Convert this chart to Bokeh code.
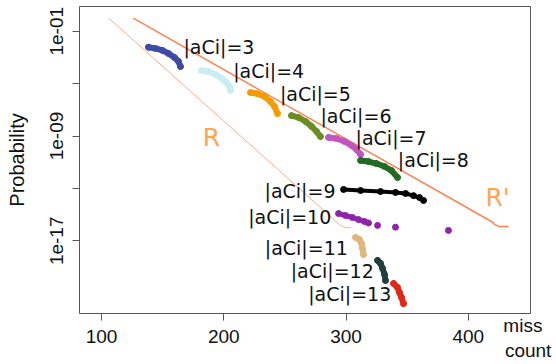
from bokeh.plotting import figure
from bokeh.models import Range1d, FixedTicker, CustomJSTickFormatter, LinearAxis
from bokeh.core.properties import value
from bokeh.embed import file_html
from bokeh.resources import INLINE

# ---- data ----
c3_x = [138.4, 144.2, 149.9, 154.8, 159.7, 163.0, 164.6]
c3_p = [6.0e-3, 4.8e-3, 3.4e-3, 2.0e-3, 9.8e-4, 4.9e-4, 2.0e-4]
c4_x = [181.8, 187.5, 193.3, 198.2, 202.2, 204.7, 205.5]
c4_p = [1.0e-4, 8.3e-5, 4.9e-5, 2.5e-5, 1.2e-5, 6.0e-6, 3.0e-6]
c5_x = [221.9, 227.6, 233.3, 238.2, 241.5, 244.0]
c5_p = [2.1e-6, 1.7e-6, 1.05e-6, 4.3e-7, 1.8e-7, 5.2e-8]
c6_x = [255.4, 261.1, 266.9, 271.8, 275.9, 279.1]
c6_p = [3.6e-8, 2.6e-8, 1.3e-8, 5.4e-9, 2.2e-9, 9.1e-10]
c7_x = [285.7, 292.2, 298.8, 304.5, 308.6, 311.9]
c7_p = [7.8e-10, 6.5e-10, 3.8e-10, 1.9e-10, 9.3e-11, 3.9e-11]
c8_x = [311.9, 318.4, 324.9, 331.5, 337.2, 342.1]
c8_p = [1.35e-11, 1.12e-11, 7.9e-12, 4.7e-12, 2.3e-12, 6.8e-13]
c9_x = [298.0, 311.9, 328.2, 340.5, 348.7, 355.2, 360.1, 363.4]
c9_p = [8.3e-14, 6.9e-14, 5.8e-14, 4.9e-14, 4.1e-14, 2.8e-14, 2.0e-14, 1.2e-14]
c10_x = [293.9, 299.6, 305.3, 310.2, 315.1, 318.4, 325.8, 340.5, 383.8]
c10_p = [1.2e-15, 8.5e-16, 6.0e-16, 4.2e-16, 3.0e-16, 2.3e-16, 1.5e-16, 1.1e-16, 6.2e-17]
c11_x = [307.8, 311.0, 312.7, 313.5, 314.3]
c11_p = [1.8e-17, 1.26e-17, 6.2e-18, 2.6e-18, 8.9e-19]
c12_x = [325.8, 328.2, 329.9, 331.5, 332.3]
c12_p = [3.2e-19, 1.9e-19, 7.8e-20, 2.7e-20, 9.3e-21]
c13_x = [338.9, 342.1, 343.8, 345.4, 347.0]
c13_p = [5.5e-21, 2.8e-21, 1.1e-21, 4.7e-22, 1.6e-22]

rp_x = [126.0, 420.0, 421.5, 425.0, 433.0]
rp_p = [0.98, 2.6e-16, 1.8e-16, 1.26e-16, 1.26e-16]
r_x = [106.0, 295.5, 299.5, 304.0]
r_p = [0.98, 1.5e-16, 1.0e-16, 1.0e-16]

cluster_names = ["|aCi|=3", "|aCi|=4", "|aCi|=5", "|aCi|=6", "|aCi|=7", "|aCi|=8",
                 "|aCi|=9", "|aCi|=10", "|aCi|=11", "|aCi|=12", "|aCi|=13"]
x_ticks = [100, 200, 300, 400]
y_ticks = [1e-1, 1e-5, 1e-9, 1e-13, 1e-17]
x_title = "miss\u00a0\u00a0\ncount"

# ---- styling / layout ----
clusters = [
    (c3_x, c3_p, "#3d4aa6", None, 6),
    (c4_x, c4_p, "#c9eef2", None, 6),
    (c5_x, c5_p, "#f59c00", None, 6),
    (c6_x, c6_p, "#6b8e23", None, 6),
    (c7_x, c7_p, "#c255c0", None, 6),
    (c8_x, c8_p, "#216b25", None, 6),
    (c9_x, c9_p, "#000000", None, 4),
    (c10_x, c10_p, "#8e24aa", 6, 5),
    (c11_x, c11_p, "#e0b57e", None, 6),
    (c12_x, c12_p, "#223f3f", None, 6),
    (c13_x, c13_p, "#e0281a", None, 6),
]
label_pos = [
    (167.0, 5.8e-3, "left"), (207.7, 8.9e-5, "left"), (245.9, 1.5e-6, "left"),
    (279.1, 3.6e-8, "left"), (307.8, 7.2e-10, "left"), (342.4, 1.35e-11, "left"),
    (291.4, 6.8e-14, "right"), (287.9, 6.3e-16, "right"), (301.5, 2.75e-18, "right"),
    (322.7, 5.4e-20, "right"), (337.0, 8.9e-22, "right"),
]

p = figure(width=556, height=364, y_axis_type="log",
           x_range=Range1d(82.0, 450.9), y_range=Range1d(10**-22.55, 10**0.886),
           output_backend="svg", toolbar_location=None,
           min_border_left=79, min_border_right=26, min_border_top=6, min_border_bottom=51)
p.background_fill_color = "white"
p.border_fill_color = "white"
p.outline_line_color = "#555555"
p.outline_line_width = 1
p.xgrid.visible = False
p.ygrid.visible = False

for ax in (p.xaxis[0], p.yaxis[0]):
    ax.axis_line_color = None
    ax.major_tick_line_color = "#555555"
    ax.major_tick_out = 7
    ax.major_tick_in = 0
    ax.minor_tick_line_color = None
    ax.major_label_text_font = "Liberation Sans"
    ax.major_label_text_font_size = "19px"
    ax.major_label_text_color = "#111111"

p.xaxis.ticker = FixedTicker(ticks=x_ticks)
p.xaxis.major_label_standoff = 9
p.yaxis.ticker = FixedTicker(ticks=y_ticks)
p.yaxis.formatter = CustomJSTickFormatter(code="""
const e = Math.round(Math.log10(tick));
if (e == -1) return "1e-01";
if (e == -9) return "1e-09";
if (e == -17) return "1e-17";
return "";
""")
p.yaxis.major_label_orientation = "vertical"
p.yaxis.major_label_standoff = 9
p.yaxis.axis_label = "Probability"
p.yaxis.axis_label_text_font = "Liberation Sans"
p.yaxis.axis_label_text_font_size = "20px"
p.yaxis.axis_label_text_font_style = "normal"
p.yaxis.axis_label_text_color = "#111111"
p.yaxis.axis_label_standoff = 20

# "miss count" title at the bottom right, via a tick-less extra axis
title_axis = LinearAxis(ticker=FixedTicker(ticks=[449]),
                        formatter=CustomJSTickFormatter(code="return %r;" % x_title),
                        axis_line_color=None, major_tick_line_color=None,
                        major_tick_out=0, major_tick_in=0, minor_tick_line_color=None,
                        major_label_standoff=-31,
                        major_label_text_font="Liberation Sans",
                        major_label_text_font_size="19px",
                        major_label_text_color="#111111")
p.add_layout(title_axis, "below")

# theory lines
p.line(rp_x, rp_p, line_color="#ff8050", line_width=1.5)
p.line(r_x, r_p, line_color="#ffab88", line_width=1)

for xs, ps, col, nline, lw in clusters:
    lx = xs if nline is None else xs[:nline]
    lp = ps if nline is None else ps[:nline]
    p.line(lx, lp, line_color=col, line_width=lw, line_cap="round", line_join="round")
    p.scatter(xs, ps, size=6, fill_color=col, line_color=col)

for name, (lx, ly, al) in zip(cluster_names, label_pos):
    p.text(x=[lx], y=[ly], text=[name], text_align=al, text_baseline="middle",
           text_font=value("DejaVu Sans"), text_font_size="19px", text_color="#111111")

p.text(x=[190.0], y=[7.8e-10], text=["R"], text_align="center", text_baseline="middle",
       text_font=value("DejaVu Sans"), text_font_size="25px", text_color="#ffa54f")
p.text(x=[424.0], y=[1.86e-14], text=["R'"], text_align="center", text_baseline="middle",
       text_font=value("DejaVu Sans"), text_font_size="25px", text_color="#ffa54f")

open("out.html", "w").write(file_html(p, INLINE))
